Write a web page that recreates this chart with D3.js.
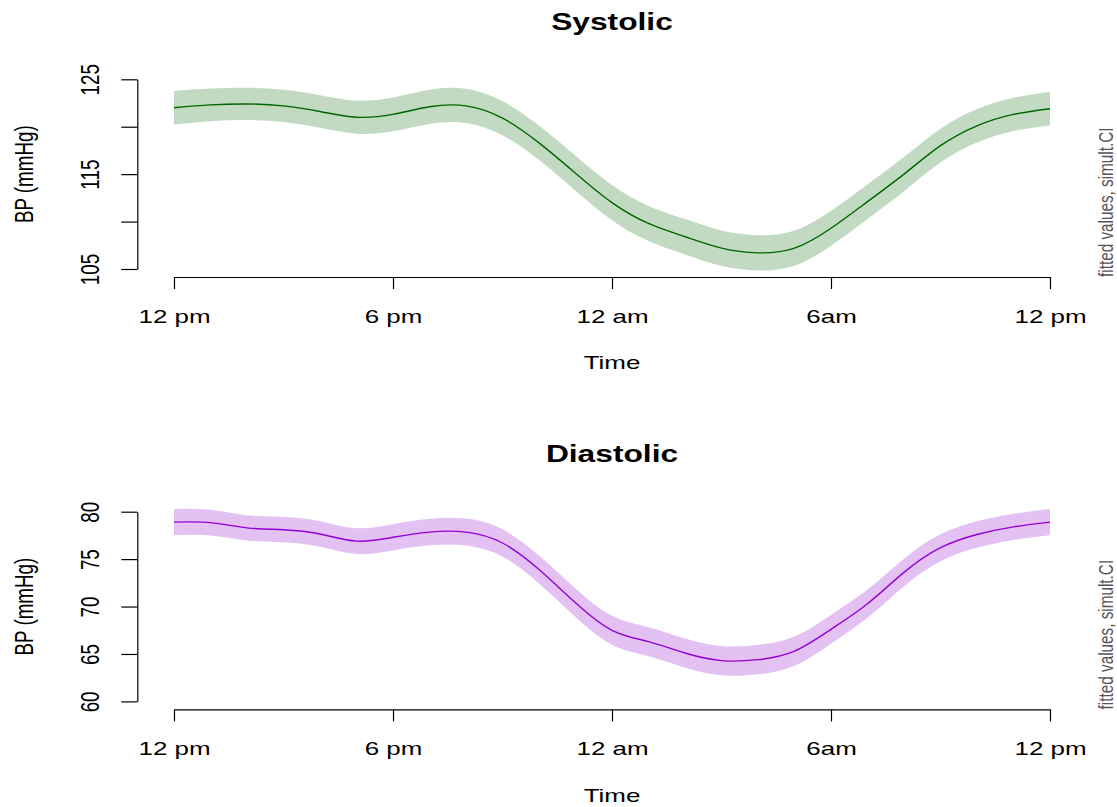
<!DOCTYPE html>
<html>
<head>
<meta charset="utf-8">
<script src="https://cdn.jsdelivr.net/npm/d3@7"></script>
<style>
  body { margin: 0; background: #fff; }
  svg { display: block; }
  text { font-family: "Liberation Sans", Arial, Helvetica, sans-serif; }
</style>
</head>
<body>
<svg id="chart" width="1117" height="807"></svg>
<script>
// Hours after 12 pm at which the fitted curves are tabulated
const hours = [0, 1, 2, 3, 4, 5, 6, 7, 8, 9, 10, 11, 12, 13, 14, 15, 16, 17, 18, 19, 20, 21, 22, 23, 24];

// Systolic fitted values (mmHg) and half-width of the simultaneous CI
const systolic = [122.0, 122.3, 122.4, 122.2, 121.6, 121.0, 121.3, 122.1, 122.2, 120.9, 118.3, 115.1,
                  112.0, 109.8, 108.4, 107.2, 106.7, 107.2, 109.3, 112.1, 115.0, 118.0, 120.1, 121.3, 121.9];
const systolicHalfCI = [1.76, 1.72, 1.70, 1.70, 1.72, 1.75, 1.78, 1.80, 1.80, 1.80, 1.82, 1.84,
                        1.85, 1.85, 1.86, 1.86, 1.86, 1.85, 1.84, 1.82, 1.80, 1.78, 1.76, 1.75, 1.76];

// Diastolic fitted values (mmHg) and half-width of the simultaneous CI
const diastolic = [78.9, 78.85, 78.3, 78.1, 77.65, 76.9, 77.3, 77.85, 77.85, 76.7, 73.9, 70.4,
                   67.5, 66.3, 65.1, 64.3, 64.4, 65.3, 67.6, 70.3, 73.6, 76.2, 77.6, 78.4, 78.9];
const diastolicHalfCI = [1.38, 1.35, 1.33, 1.33, 1.34, 1.36, 1.38, 1.40, 1.42, 1.44, 1.47, 1.50,
                         1.52, 1.53, 1.54, 1.55, 1.55, 1.54, 1.52, 1.49, 1.45, 1.42, 1.40, 1.38, 1.39];

// Axis ticks and labels
const timeTicks = [0, 6, 12, 18, 24];
const timeLabels = ["12 pm", "6 pm", "12 am", "6am", "12 pm"];
const sysTicks = [105, 110, 115, 120, 125];
const sysTickLabels = ["105", "", "115", "", "125"];
const diaTicks = [60, 65, 70, 75, 80];
const diaTickLabels = ["60", "65", "70", "75", "80"];

const svg = d3.select("#chart");
const stretch = 1.38;          // horizontal glyph stretch of the device
const x = d3.scaleLinear().domain([0, 24]).range([174, 1050]);

function drawPanel(opts) {
  const off = opts.offset;
  const y = d3.scaleLinear().domain(opts.domain).range([269 + off, 79.3 + off]);
  const g = svg.append("g");

  const rows = hours.map((h, i) => ({ h, v: opts.values[i], c: opts.half[i] }));
  const curve = d3.curveNatural;

  // confidence band
  g.append("path")
    .datum(rows)
    .attr("fill", opts.band)
    .attr("stroke", "none")
    .attr("d", d3.area().curve(curve)
      .x(d => x(d.h)).y0(d => y(d.v - d.c)).y1(d => y(d.v + d.c)));

  // fitted line
  g.append("path")
    .datum(rows)
    .attr("fill", "none")
    .attr("stroke", opts.line)
    .attr("stroke-width", 1.4)
    .attr("d", d3.line().curve(curve).x(d => x(d.h)).y(d => y(d.v)));

  // x axis
  const xa = g.append("g")
    .attr("transform", `translate(0,${277 + off})`)
    .call(d3.axisBottom(x).tickValues(timeTicks)
      .tickFormat((d, i) => timeLabels[i]).tickSize(12).tickSizeOuter(0));
  xa.selectAll(".tick text")
    .attr("y", null).attr("dy", null)
    .attr("transform", `translate(0,45.7) scale(${stretch},1)`)
    .attr("font-size", 18.8).attr("fill", "#000");

  // y axis
  const ya = g.append("g")
    .attr("transform", "translate(137.3,0)")
    .call(d3.axisLeft(y).tickValues(opts.ticks)
      .tickFormat((d, i) => opts.tickLabels[i]).tickSize(16).tickSizeOuter(0));
  ya.selectAll(".tick text")
    .attr("x", null).attr("dy", null)
    .attr("text-anchor", "middle")
    .attr("transform", `translate(-38.3,0) scale(${stretch},1) rotate(-90)`)
    .attr("font-size", 18.8).attr("fill", "#000");

  [xa, ya].forEach(a => {
    a.attr("font-family", null).attr("font-size", null);
    a.selectAll("path.domain, .tick line").attr("stroke", "#000").attr("stroke-width", 1.2);
  });

  // title
  g.append("text")
    .attr("transform", `translate(612,${30 + off}) scale(${stretch},1)`)
    .attr("text-anchor", "middle").attr("font-weight", "bold").attr("font-size", 23)
    .text(opts.title);

  // x axis title
  g.append("text")
    .attr("transform", `translate(612,${369.3 + off}) scale(${stretch},1)`)
    .attr("text-anchor", "middle").attr("font-size", 18.8)
    .text("Time");

  // y axis title
  g.append("text")
    .attr("transform", `translate(33.3,${174.2 + off}) scale(${stretch},1) rotate(-90)`)
    .attr("text-anchor", "middle").attr("font-size", 18.8)
    .text("BP (mmHg)");

  // side note
  g.append("text")
    .attr("transform", `translate(1112.5,${277 + off}) scale(${stretch},1) rotate(-90)`)
    .attr("text-anchor", "start").attr("font-size", 15.3).attr("fill", "#555")
    .text("fitted values, simult.CI");
}

drawPanel({
  offset: 0, title: "Systolic", domain: [105, 125],
  values: systolic, half: systolicHalfCI,
  ticks: sysTicks, tickLabels: sysTickLabels,
  line: "#006400", band: "rgb(193,218,193)"
});

drawPanel({
  offset: 432.4, title: "Diastolic", domain: [60, 80],
  values: diastolic, half: diastolicHalfCI,
  ticks: diaTicks, tickLabels: diaTickLabels,
  line: "#9400d3", band: "rgb(227,193,243)"
});
</script>
</body>
</html>
